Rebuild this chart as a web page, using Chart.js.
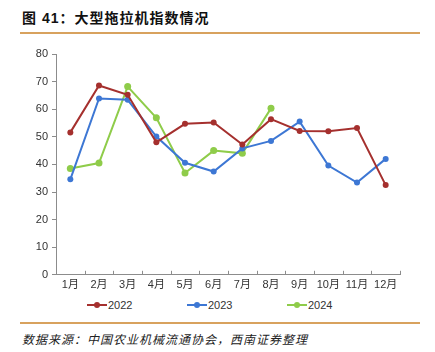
<!DOCTYPE html>
<html lang="zh">
<head>
<meta charset="UTF-8">
<title>大型拖拉机指数情况</title>
<script src="https://cdn.jsdelivr.net/npm/chart.js"></script>
<style>
    body {
        margin: 0;
        width: 435px;
        height: 352px;
        background: #ffffff;
        font-family: "Liberation Sans", Arial, "Noto Sans CJK SC", sans-serif;
        position: relative;
        overflow: hidden;
    }
    #title {
        position: absolute;
        left: 22px;
        top: 7px;
        font-size: 14px;
        font-weight: bold;
        letter-spacing: 1px;
        color: #111;
        font-family: "Liberation Sans", "Noto Sans CJK SC", sans-serif;
    }
    .rule {
        position: absolute;
        left: 20px;
        width: 400px;
        height: 2px;
        background: #d8a25e;
    }
    #chart-box {
        position: absolute;
        left: 0;
        top: 35px;
        width: 435px;
        height: 261px;
    }
    .key {
        position: absolute;
        top: 298px;
        height: 14px;
        font-size: 11px;
        color: #333;
        line-height: 14px;
    }
    .key .ln {
        position: absolute;
        left: 0;
        top: 6px;
        width: 20px;
        height: 2px;
    }
    .key .dot {
        position: absolute;
        left: 7px;
        top: 4px;
        width: 6px;
        height: 6px;
        border-radius: 3px;
    }
    .key .txt {
        position: absolute;
        left: 21px;
        top: 0;
    }
    #source {
        position: absolute;
        left: 22px;
        top: 330px;
        font-size: 12px;
        font-style: italic;
        letter-spacing: 1px;
        color: #222;
        font-family: "Noto Sans CJK SC", sans-serif;
    }
</style>
</head>
<body>
<div id="title">图 41：大型拖拉机指数情况</div>
<div class="rule" style="top:32px"></div>
<div id="chart-box"><canvas id="chart"></canvas></div>
<div id="keys"></div>
<div class="rule" style="top:322px"></div>
<div id="source">数据来源：中国农业机械流通协会，西南证券整理</div>

<script>
    const months = ["1月", "2月", "3月", "4月", "5月", "6月", "7月", "8月", "9月", "10月", "11月", "12月"];
    const idx2022 = [51.6, 68.6, 65.2, 48.0, 54.7, 55.2, 47.2, 56.4, 52.1, 52.0, 53.2, 32.5];
    const idx2023 = [34.6, 63.9, 63.4, 50.1, 40.6, 37.4, 45.8, 48.5, 55.5, 39.6, 33.4, 42.0];
    const idx2024 = [38.5, 40.5, 68.2, 56.9, 36.9, 45.0, 44.0, 60.3];
    const yTicks = [0, 10, 20, 30, 40, 50, 60, 70, 80];

    const red = "#a5302e";
    const blue = "#3d77d4";
    const green = "#8fcc4a";

    // tick marks between categories, pointing into the plot
    const innerTicks = {
        id: "innerTicks",
        afterDraw(chart) {
            const x = chart.scales.x;
            const ctx = chart.ctx;
            const step = (x.right - x.left) / months.length;
            ctx.save();
            ctx.strokeStyle = "#8c8c8c";
            ctx.lineWidth = 1;
            for (let i = 1; i <= months.length; i++) {
                const px = Math.round(x.left + i * step) + 0.5;
                ctx.beginPath();
                ctx.moveTo(px, x.top);
                ctx.lineTo(px, x.top - 4);
                ctx.stroke();
            }
            ctx.restore();
        }
    };

    function lineSet(label, data, color, r) {
        return {
            label: label,
            data: data,
            borderColor: color,
            backgroundColor: color,
            borderWidth: 2,
            pointRadius: r,
            pointHoverRadius: r,
            pointBorderWidth: 0,
            tension: 0
        };
    }

    const chart = new Chart(document.getElementById("chart"), {
        type: "line",
        data: {
            labels: months,
            datasets: [
                lineSet("2022", idx2022, red, 3),
                lineSet("2023", idx2023, blue, 3),
                lineSet("2024", idx2024, green, 3.5)
            ]
        },
        options: {
            responsive: true,
            maintainAspectRatio: false,
            animation: false,
            layout: { padding: { left: 0, right: 35, top: 19, bottom: 0 } },
            plugins: {
                title: { display: false },
                tooltip: { enabled: false },
                legend: { display: false }
            },
            scales: {
                x: {
                    offset: true,
                    grid: { display: false, drawTicks: false },
                    border: { color: "#8c8c8c", width: 1 },
                    ticks: {
                        padding: 4,
                        color: "#333",
                        maxRotation: 0,
                        autoSkip: false,
                        font: { size: 11, family: "'Liberation Sans', Arial, 'Noto Sans CJK SC', sans-serif" }
                    }
                },
                y: {
                    min: 0,
                    max: 80,
                    afterFit: s => { s.width = 56; },
                    afterBuildTicks: s => { s.ticks = yTicks.map(v => ({ value: v })); },
                    grid: { drawOnChartArea: false, drawTicks: true, tickLength: 4, color: "#8c8c8c" },
                    border: { color: "#8c8c8c", width: 1 },
                    ticks: {
                        padding: 4,
                        color: "#333",
                        font: { size: 11, family: "'Liberation Sans', Arial, sans-serif" }
                    }
                }
            }
        },
        plugins: [innerTicks]
    });

    // legend below the axis, built from the datasets
    const keyLeft = [87, 187, 287];
    const keys = document.getElementById("keys");
    chart.data.datasets.forEach((ds, i) => {
        const k = document.createElement("div");
        k.className = "key";
        k.style.left = keyLeft[i] + "px";
        k.innerHTML = '<span class="ln" style="background:' + ds.borderColor + '"></span>' +
            '<span class="dot" style="background:' + ds.borderColor + '"></span>' +
            '<span class="txt">' + ds.label + '</span>';
        keys.appendChild(k);
    });
</script>
</body>
</html>
